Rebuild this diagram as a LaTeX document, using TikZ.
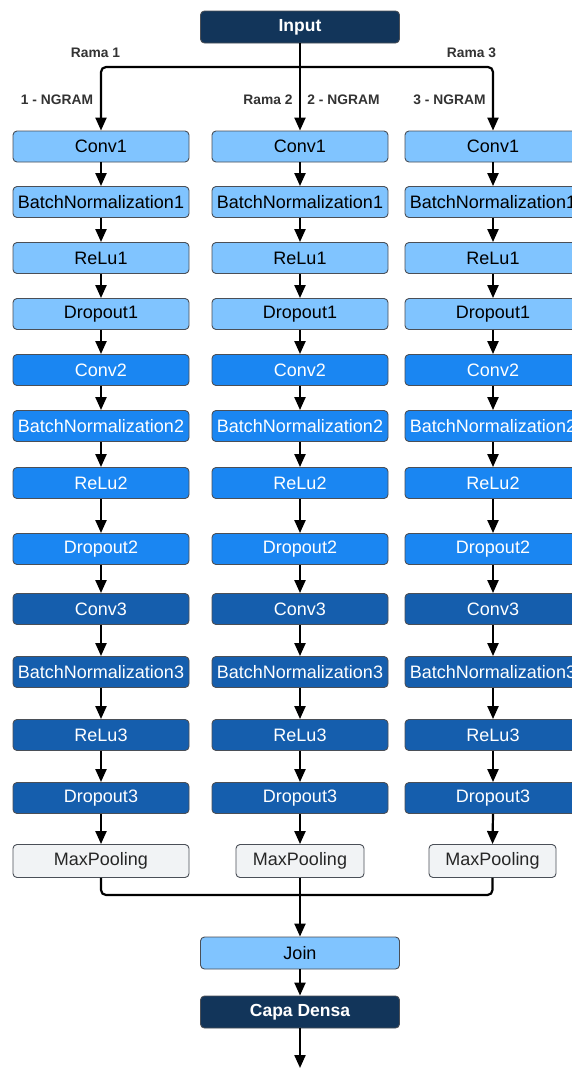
\documentclass[tikz,border=0pt]{standalone}
\usepackage{fontspec}
\setmainfont{Liberation Sans}
\usetikzlibrary{arrows.meta}
\definecolor{navy}{HTML}{12355A}
\definecolor{lightblue}{HTML}{80C4FF}
\definecolor{midblue}{HTML}{1A86F2}
\definecolor{deepblue}{HTML}{155EAD}
\definecolor{poolgray}{HTML}{F1F3F5}
\definecolor{edgegray}{HTML}{4A4F57}
\definecolor{labelgray}{HTML}{333333}

\begin{document}
\begin{tikzpicture}[x=1pt,y=-1pt,
  layer/.style={draw=edgegray, line width=0.9pt, rounded corners=4pt,
    minimum width=176pt, minimum height=31pt, inner sep=0pt,
    font=\fontsize{18}{20}\selectfont},
  lightbox/.style={layer, fill=lightblue, text=black},
  midbox/.style={layer, fill=midblue, text=white},
  deepbox/.style={layer, fill=deepblue, text=white},
  poolbox/.style={layer, fill=poolgray, text=black!85, minimum height=33pt},
  headbox/.style={layer, fill=navy, text=white, minimum width=199pt,
    minimum height=32pt, font=\fontsize{17.5}{20}\selectfont\bfseries},
  joinbox/.style={layer, fill=lightblue, text=black, minimum width=199pt,
    minimum height=32pt},
  branchlabel/.style={font=\fontsize{13.8}{16}\selectfont\bfseries,
    text=labelgray, inner sep=0pt},
  flow/.style={line width=2.2pt, -{Triangle[length=13pt,width=11pt]}},
  wire/.style={line width=2.2pt, rounded corners=5pt}]

\useasboundingbox (0,0) rectangle (571,1068);
\fill[white] (0,0) rectangle (571,1068);

% entry
\node[headbox] (in) at (300,27) {Input};

% three convolutional branches
\foreach \col/\x in {1/101,2/300,3/493} {
  \foreach \row/\y/\lbl/\sty in {
      1/146.5/Conv1/lightbox,
      2/202/BatchNormalization1/lightbox,
      3/258/ReLu1/lightbox,
      4/314/Dropout1/lightbox,
      5/370/Conv2/midbox,
      6/426/BatchNormalization2/midbox,
      7/483/ReLu2/midbox,
      8/549/Dropout2/midbox,
      9/609/Conv3/deepbox,
      10/672/BatchNormalization3/deepbox,
      11/735/ReLu3/deepbox,
      12/798/Dropout3/deepbox} {
    \node[\sty] (n\col-\row) at (\x,\y) {\lbl};
  }
  \foreach \row [evaluate=\row as \nxt using int(\row+1)] in {1,...,11}
    \draw[flow] (n\col-\row.south) -- (n\col-\nxt.north);
}

% pooling layers
\node[poolbox, minimum width=176pt] (mp1) at (101,861) {MaxPooling};
\node[poolbox, minimum width=128pt] (mp2) at (300,861) {MaxPooling};
\node[poolbox, minimum width=127pt] (mp3) at (492.5,861) {MaxPooling};
\draw[flow] (n1-12.south) -- (mp1.north);
\draw[flow] (n2-12.south) -- (mp2.north);
\draw[flow] (n3-12.south) -- (mp3.north);

% split of the input into the branches
\coordinate (split) at (300,67);
\draw[wire] (in.south) -- (split);
\draw[flow, rounded corners=5pt] (split) -| (n1-1.north);
\draw[flow, rounded corners=5pt] (split) -| (n3-1.north);
\draw[flow] (split) -- (n2-1.north);

% branch labels
\node[branchlabel] (r1) at (95.5,53) {Rama 1};
\node[branchlabel] (r3) at (471.5,53) {Rama 3};
\node[branchlabel] (g1) at (57,100) {1 - NGRAM};
\node[branchlabel] (r2) at (268,100) {Rama 2};
\node[branchlabel] (g2) at (343.5,100) {2 - NGRAM};
\node[branchlabel] (g3) at (449.5,100) {3 - NGRAM};

% merge and head
\node[joinbox] (join) at (300,953) {Join};
\node[headbox] (dense) at (300,1012) {Capa Densa};
\coordinate (merge) at (300,895);
\coordinate (out) at (300,1068);
\draw[wire] (mp1.south) |- (merge) -| (mp3.south);
\draw[wire] (mp2.south) -- (merge);
\draw[flow] (merge) -- (join.north);
\draw[flow] (join.south) -- (dense.north);
\draw[flow] (dense.south) -- (out);

\end{tikzpicture}
\end{document}
